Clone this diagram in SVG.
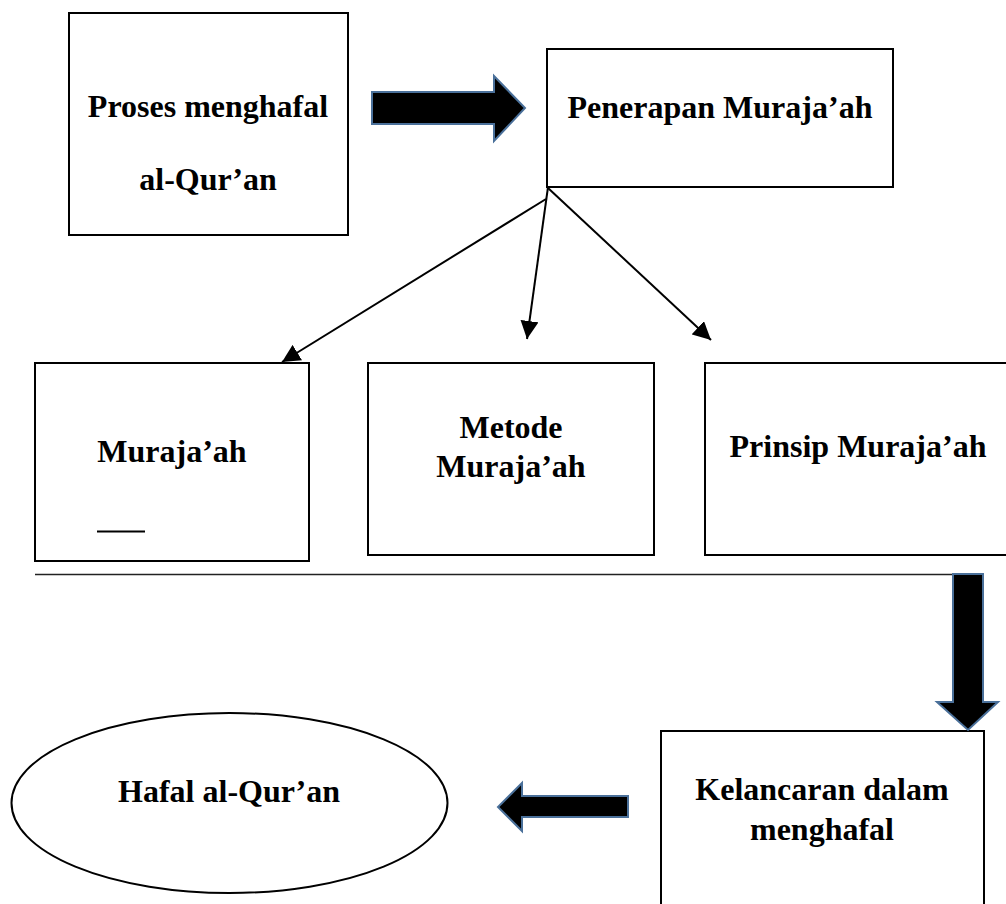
<svg xmlns="http://www.w3.org/2000/svg" width="1006" height="904" viewBox="0 0 1006 904">
<defs>
<style>
.box{fill:#fff;stroke:#000;stroke-width:2}
.t{font-family:"Liberation Serif","Times New Roman",serif;font-weight:bold;font-size:32px;fill:#000;text-anchor:middle}
.big{fill:#000;stroke:#4a709a;stroke-width:2;stroke-linejoin:miter}
.conn{stroke:#000;stroke-width:2;fill:none}
</style>
<marker id="ah" viewBox="0 0 10 10" refX="10" refY="5" markerWidth="9" markerHeight="9" markerUnits="userSpaceOnUse" orient="auto">
<path d="M0,0 L10,5 L0,10 z" fill="#000"/>
</marker>
<marker id="ah2" viewBox="0 0 10 10" refX="10" refY="5" markerWidth="18" markerHeight="18" markerUnits="userSpaceOnUse" orient="auto">
<path d="M0,0 L10,5 L0,10 z" fill="#000"/>
</marker>
</defs>
<rect width="1006" height="904" fill="#fff"/>

<g id="n-proses">
<rect class="box" x="69" y="13" width="279" height="222"/>
<text class="t" x="208" y="117">Proses menghafal</text>
<text class="t" x="208" y="190">al-Qur’an</text>
</g>

<g id="n-penerapan">
<rect class="box" x="547" y="49" width="346" height="138"/>
<text class="t" x="720" y="118">Penerapan Muraja’ah</text>
</g>

<g id="n-murajaah">
<rect class="box" x="35" y="363" width="274" height="198"/>
<text class="t" x="172" y="462">Muraja’ah</text>
<line x1="97" y1="531.5" x2="145" y2="531.5" stroke="#000" stroke-width="2"/>
</g>

<g id="n-metode">
<rect class="box" x="368" y="363" width="286" height="192"/>
<text class="t" x="511" y="438">Metode</text>
<text class="t" x="511" y="477">Muraja’ah</text>
</g>

<g id="n-prinsip">
<rect class="box" x="705" y="363" width="310" height="192"/>
<text class="t" x="858" y="457">Prinsip Muraja’ah</text>
</g>

<g id="n-kelancaran">
<rect class="box" x="661" y="731" width="323" height="180"/>
<text class="t" x="822" y="800">Kelancaran dalam</text>
<text class="t" x="822" y="840">menghafal</text>
</g>

<g id="n-hafal">
<ellipse class="box" cx="229.5" cy="803" rx="218" ry="90"/>
<text class="t" x="229" y="802">Hafal al-Qur’an</text>
</g>

<g id="connectors">
<line class="conn" x1="546" y1="199" x2="282" y2="362" marker-end="url(#ah2)"/>
<line class="conn" x1="548" y1="187" x2="527" y2="339" marker-end="url(#ah2)"/>
<line class="conn" x1="548" y1="188" x2="711" y2="340" marker-end="url(#ah2)"/>
<line x1="35" y1="574.5" x2="953" y2="574.5" stroke="#222" stroke-width="1.5"/>
<path class="big" d="M372,92 L494,92 L494,76 L525,108 L494,141 L494,124 L372,124 Z"/>
<path class="big" d="M953,574 L983,574 L983,702 L998,702 L968,730 L937,702 L953,702 Z"/>
<path class="big" d="M628,796 L522,796 L522,783 L498,807 L522,831 L522,817 L628,817 Z"/>
</g>
</svg>
